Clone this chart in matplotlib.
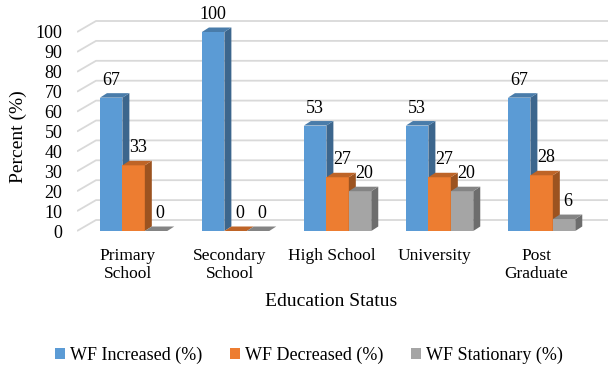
import matplotlib
matplotlib.use("Agg")
import matplotlib.pyplot as plt
from matplotlib.patches import Polygon, Patch
from matplotlib.colors import to_rgb
import numpy as np

# ---- data ----
categories = ["Primary\nSchool", "Secondary\nSchool", "High School", "University", "Post\nGraduate"]
series_names = ["WF Increased (%)", "WF Decreased (%)", "WF Stationary (%)"]
wf_increased = [67, 100, 53, 53, 67]
wf_decreased = [33, 0, 27, 27, 28]
wf_stationary = [0, 0, 20, 20, 6]
y_ticks = list(range(0, 101, 10))

series = [wf_increased, wf_decreased, wf_stationary]
colors = ["#5B9BD5", "#ED7D31", "#A5A5A5"]

plt.rcParams["font.family"] = ["Liberation Serif", "DejaVu Serif"]

W, H, DPI = 608, 370, 100
fig = plt.figure(figsize=(W / DPI, H / DPI), dpi=DPI)

# plot area in pixels
left_px, right_px, top_px, bottom_px = 77, 608, 15, 245
ax = fig.add_axes([left_px / W, 1 - bottom_px / H,
                   (right_px - left_px) / W, (bottom_px - top_px) / H])

group_px = 102.0   # pixels per category
x0_px = 133.6      # pixel position of first category centre
unit_px = 1.99     # pixels per percent
zero_px = 231.0    # pixel row of the value 0
ax.set_xlim((left_px - x0_px) / group_px, (right_px - x0_px) / group_px)
ax.set_ylim((zero_px - bottom_px) / unit_px, (zero_px - top_px) / unit_px)
xmin, xmax = ax.get_xlim()

# depth of the bars and of the back wall (pseudo 3-D)
bar_dx, bar_dy = 7 / group_px, 4.5 / unit_px
wall_dx, wall_dy = 19 / group_px, 11 / unit_px


def shade(c, f):
    r, g, b = to_rgb(c)
    return (r * f, g * f, b * f)


# gridlines on the back wall with the receding left edge
grid_col = "#D9D9D9"
for v in y_ticks:
    ax.plot([xmin, xmin + wall_dx, xmax], [v, v + wall_dy, v + wall_dy],
            color=grid_col, lw=1.3, zorder=1, solid_capstyle="butt")

x = np.arange(len(categories))
width = 0.22
offsets = [-width, 0.0, width]
label_shift = [0, 3, 3]  # horizontal nudge of value labels (points)

z = 2
for s, (vals, col) in enumerate(zip(series, colors)):
    for i, v in enumerate(vals):
        xl = x[i] + offsets[s] - width / 2
        xr = xl + width
        # front face
        ax.bar(xl, v, width=width, align="edge", color=col, zorder=z, linewidth=0)
        # side face
        ax.add_patch(Polygon([(xr, 0), (xr + bar_dx, bar_dy), (xr + bar_dx, v + bar_dy), (xr, v)],
                             closed=True, facecolor=shade(col, 0.66), edgecolor="none", zorder=z))
        # top face
        ax.add_patch(Polygon([(xl, v), (xl + bar_dx, v + bar_dy), (xr + bar_dx, v + bar_dy), (xr, v)],
                             closed=True, facecolor=shade(col, 0.8), edgecolor="none", zorder=z))
        ax.annotate(str(v), xy=(xl + width / 2, v), xytext=(label_shift[s], 12.5),
                    textcoords="offset points", ha="center", va="center",
                    fontsize=13, color="black", zorder=20, annotation_clip=False)
    z += 1

# axes styling
for sp in ax.spines.values():
    sp.set_visible(False)
ax.set_yticks(y_ticks)
ax.set_yticklabels([str(t) for t in y_ticks], fontsize=13)
ax.tick_params(axis="y", length=0, pad=10.5)
ax.set_xticks(x - 0.055)
ax.set_xticklabels(categories, fontsize=12.5, linespacing=1.15)
ax.tick_params(axis="x", length=0, pad=2)
ax.set_facecolor("none")

fig.text(18 / W, 1 - 137 / H, "Percent (%)", rotation=90, ha="center", va="center", fontsize=14)
fig.text(331 / W, 1 - 301 / H, "Education Status", ha="center", va="center", fontsize=14)

handles = [Patch(facecolor=c, edgecolor="none") for c in colors]
fig.legend(handles, series_names, loc="center", bbox_to_anchor=(309 / W, 1 - 355 / H),
           ncol=3, frameon=False, fontsize=13, handlelength=0.55, handleheight=0.55,
           handletextpad=0.3, columnspacing=1.5)

fig.savefig("out.png", dpi=DPI)
